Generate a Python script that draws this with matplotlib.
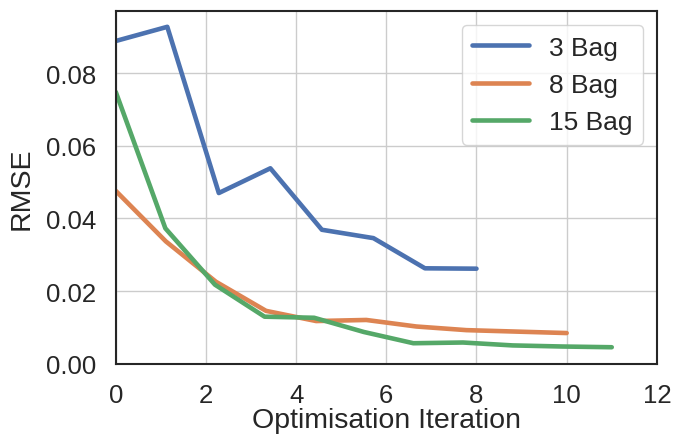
import numpy as np
import matplotlib
matplotlib.use("Agg")
import matplotlib.pyplot as plt
import seaborn as sns

# RMSE per optimisation iteration
rmse_3bag = [0.0888, 0.0927, 0.0470, 0.0538, 0.0369, 0.0346, 0.0263, 0.0262]
rmse_8bag = [0.0476, 0.0337, 0.0226, 0.0146, 0.0118, 0.0121, 0.0103, 0.0093, 0.0089, 0.0085]
rmse_15bag = [0.0748, 0.0373, 0.0218, 0.0130, 0.0127, 0.0088, 0.0057, 0.0059, 0.0051, 0.0048, 0.0046]
labels = ["3 Bag", "8 Bag", "15 Bag"]
x_ends = [8, 10, 11]

sns.set_theme(style="whitegrid")
plt.rcParams['font.family'] = ['Liberation Sans', 'DejaVu Sans']
plt.rcParams['axes.edgecolor'] = '.15'

fig = plt.figure(figsize=(6.73, 4.35), dpi=100)
ax = fig.add_axes([0.172, 0.161, 0.804, 0.811])

palette = sns.color_palette()
for series, xe, lab, c in zip([rmse_3bag, rmse_8bag, rmse_15bag], x_ends, labels, palette):
    xs = np.linspace(0, xe, len(series))
    ax.plot(xs, series, color=c, linewidth=3.3, label=lab)

ax.set_xlim(0, 12)
ax.set_ylim(0, 0.097)
ax.set_xticks([0, 2, 4, 6, 8, 10, 12])
ax.set_yticks([0.0, 0.02, 0.04, 0.06, 0.08])
ax.set_yticklabels(['0.00', '0.02', '0.04', '0.06', '0.08'])
ax.tick_params(labelsize=18.5)
ax.tick_params(axis='y', pad=8)
ax.tick_params(axis='x', pad=8)
ax.set_xlabel('Optimisation Iteration', fontsize=20.5, labelpad=0)
ax.set_ylabel('RMSE', fontsize=20.5, labelpad=8)
for s in ax.spines.values():
    s.set_linewidth(1.5)

ax.legend(loc='upper right', fontsize=19, handlelength=2.15, handletextpad=0.75,
          borderaxespad=0.53)

fig.savefig('out.png', dpi=100)
